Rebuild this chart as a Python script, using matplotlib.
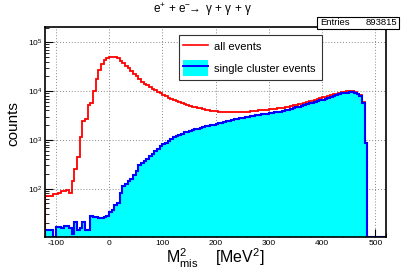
import numpy as np
import matplotlib
matplotlib.use("Agg")
import matplotlib.pyplot as plt
from matplotlib.lines import Line2D
from matplotlib.patches import Patch
from matplotlib.ticker import MultipleLocator, LogLocator, NullFormatter

plt.rcParams['font.family'] = ['Liberation Sans', 'DejaVu Sans']
plt.rcParams['mathtext.fontset'] = 'custom'
plt.rcParams['mathtext.rm'] = 'Liberation Sans'
plt.rcParams['mathtext.it'] = 'Liberation Sans:italic'
plt.rcParams['axes.unicode_minus'] = False

# Histogramas: bins de 5 MeV^2 de -120 a 520
bordas = np.arange(-120, 521, 5)

# todos os eventos (vermelho)
todos = [
    70, 70, 70, 76, 76, 81, 91, 91, 95, 80,
    143, 252, 436, 1120, 2400, 2700, 5200, 5700, 9900, 17800,
    26500, 36500, 42500, 48000, 50000, 50500, 50000, 47000, 42000, 37000,
    33000, 29500, 26000, 22600, 20000, 17500, 15500, 14000, 13000, 12000,
    11000, 10300, 9500, 9000, 8300, 7800, 7300, 6900, 6500, 6200,
    5900, 5600, 5350, 5200, 5000, 4800, 4650, 4500, 4400, 4250,
    4100, 4000, 3900, 3850, 3830, 3800, 3750, 3700, 3680, 3650,
    3650, 3650, 3660, 3700, 3720, 3750, 3800, 3830, 3900, 3950,
    4000, 4050, 4100, 4150, 4200, 4280, 4350, 4400, 4450, 4500,
    4650, 4800, 4900, 5050, 5200, 5350, 5500, 5700, 5900, 6100,
    6300, 6550, 6800, 7100, 7400, 7650, 7900, 8200, 8500, 8800,
    9100, 9350, 9600, 9800, 9900, 9900, 9750, 8700, 8200, 5900,
    880, 0, 0, 0, 0, 0, 0, 0,
]

# eventos de um único cluster (azul)
um_cluster = [
    14.5, 14.5, 14.5, 0, 16, 16, 15.5, 17, 17.5, 15.5,
    12, 21, 14, 15.5, 21, 14.5, 14, 27, 26, 26,
    25, 25.5, 26, 27, 33, 37, 47, 51, 80, 112,
    125, 143, 160, 190, 230, 300, 330, 370, 400, 470,
    520, 590, 645, 730, 820, 880, 950, 1020, 1120, 1180,
    1260, 1340, 1420, 1480, 1550, 1600, 1660, 1700, 1750, 1850,
    1900, 1950, 2000, 2050, 2100, 2180, 2250, 2320, 2400, 2480,
    2550, 2620, 2700, 2780, 2850, 2900, 2970, 3030, 3100, 3180,
    3250, 3310, 3380, 3440, 3500, 3580, 3650, 3720, 3800, 3920,
    4050, 4180, 4300, 4450, 4600, 4800, 5000, 5150, 5300, 5550,
    5800, 6000, 6200, 6450, 6700, 7000, 7300, 7650, 8000, 8350,
    8700, 8950, 9200, 9300, 9400, 9400, 9300, 8500, 8000, 5800,
    860, 0, 0, 0, 0, 0, 0, 0,
]

ymin, ymax = 10.2, 2.05e5

todos = np.array(todos, dtype=float)
um_cluster = np.array(um_cluster, dtype=float)
todos_plot = np.where(todos > 0, todos, ymin)
um_plot = np.where(um_cluster > 0, um_cluster, ymin)

fig = plt.figure(figsize=(4.07, 2.76), dpi=100)
ax = fig.add_axes([45/407, 1 - 237/276, 341/407, 210/276])

ax.stairs(um_plot, bordas, fill=True, color='#00ffff', baseline=ymin, zorder=2)
ax.stairs(todos_plot, bordas, color='#ff0000', lw=1.3, baseline=ymin, zorder=3)
ax.stairs(um_plot, bordas, color='#0000ff', lw=1.5, baseline=ymin, zorder=4)

ax.set_yscale('log')
ax.set_xlim(-120, 520)
ax.set_ylim(ymin, ymax)

ax.xaxis.set_major_locator(MultipleLocator(100))
ax.xaxis.set_minor_locator(MultipleLocator(20))
ax.yaxis.set_major_locator(LogLocator(base=10))
ax.yaxis.set_minor_locator(LogLocator(base=10, subs=np.arange(2, 10)))
ax.yaxis.set_minor_formatter(NullFormatter())
ax.tick_params(which='both', direction='in', labelsize=6)
ax.tick_params(which='major', length=6, width=0.8)
ax.tick_params(which='minor', length=3, width=0.6)
ax.tick_params(axis='x', pad=2)
ax.tick_params(axis='y', pad=2)

ax.grid(True, which='major', color='#888888', linestyle=(0, (1, 2)), lw=0.7)
for s in ax.spines.values():
    s.set_linewidth(1.2)
    s.set_zorder(5)

# legenda
alc = [Line2D([], [], color='#ff0000', lw=1.2),
       (Patch(facecolor='#00ffff', edgecolor='none'), Line2D([], [], color='#0000ff', lw=1.4))]
leg = ax.legend(alc, ['all events', 'single cluster events'],
                bbox_to_anchor=(179/407, 1 - 90/276, 143/407, 55/276),
                bbox_transform=fig.transFigure, loc='upper left', mode='expand',
                fontsize=8, handlelength=2.3, handleheight=1.8, handletextpad=0.5,
                labelspacing=0.5, borderpad=0.35, borderaxespad=0,
                fancybox=False, framealpha=1, edgecolor='#333333')
leg.get_frame().set_linewidth(0.8)
leg.set_zorder(10)

# titulo, caixa de estatisticas e eixos
fig.text(203/407, 1 - 10/276, r'$\mathrm{e}^{+}$ + $\mathrm{e}^{-}\!\!\rightarrow$ γ + γ + γ',
         ha='center', va='center', fontsize=8.5)

caixa = plt.Rectangle((317/407, 1 - 28.5/276), 82/407, 12/276, transform=fig.transFigure,
                      facecolor='white', edgecolor='black', lw=0.8, zorder=20)
fig.add_artist(caixa)
fig.text(320/407, 1 - 22.5/276, 'Entries', fontsize=6.8, va='center', ha='left', zorder=21)
fig.text(397/407, 1 - 22.5/276, '893815', fontsize=6.8, va='center', ha='right', zorder=21)

fig.text(13/407, 1 - 124/276, 'counts', rotation=90, fontsize=11, ha='center', va='center')
fig.text(215/407, 1 - 258/276, r'M$^{2}_{\mathrm{mis}}$    [MeV$^{2}$]',
         fontsize=11.5, ha='center', va='center')

fig.savefig('out.png', dpi=100)
